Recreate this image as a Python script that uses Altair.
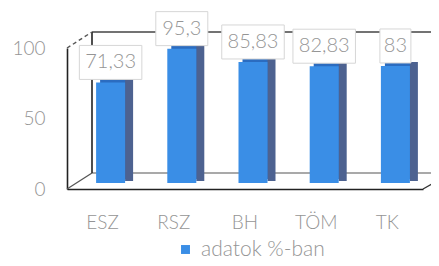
import altair as alt
import pandas as pd

categories = ["ESZ", "RSZ", "BH", "TÖM", "TK"]
values = [71.33, 95.3, 85.83, 82.83, 83]
labels = ["71,33", "95,3", "85,83", "82,83", "83"]
series = "adatok %-ban"

df = pd.DataFrame({"cat": categories, "val": values, "lab": labels, "series": series})

FONT = "Lato"
GRAY = "#959595"

x = alt.X("cat:N", sort=categories,
          scale=alt.Scale(paddingInner=0, paddingOuter=0),
          axis=alt.Axis(title=None, labelAngle=0, ticks=False, labelPadding=24,
                        labelFontSize=19, labelColor=GRAY, labelFont=FONT, labelFontWeight=300,
                        domainColor="#222222", domainWidth=1.6))
y = alt.Y("val:Q", scale=alt.Scale(domain=[0, 100], nice=False),
          axis=alt.Axis(title=None, values=[0, 50, 100], ticks=False, labelPadding=22,
                        labelFontSize=19, labelColor=GRAY, labelFont=FONT, labelFontWeight=300,
                        grid=False, domainColor="#222222", domainWidth=1.6))

base = alt.Chart(df)
frame = alt.Chart(pd.DataFrame({"z": [0]}))

lines = [
    # back wall top
    frame.mark_rule(color="#444444", strokeWidth=1.4, yOffset=-16, y2Offset=-16).encode(
        x=alt.value(25), x2=alt.value(372), y=alt.datum(100), y2=alt.datum(100)),
    # back floor
    frame.mark_rule(color="#555555", strokeWidth=1.2, yOffset=-16, y2Offset=-16).encode(
        x=alt.value(25), x2=alt.value(372), y=alt.datum(0), y2=alt.datum(0)),
    # back wall left vertical
    frame.mark_rule(color="#222222", strokeWidth=1.6, yOffset=-16, y2Offset=-16).encode(
        x=alt.value(25), y=alt.datum(0), y2=alt.datum(100)),
    # left top diagonal
    frame.mark_rule(color="#555555", strokeWidth=1.4, strokeDash=[4, 3], y2Offset=-16).encode(
        x=alt.value(0), x2=alt.value(25), y=alt.datum(100), y2=alt.datum(100)),
    # left bottom diagonal
    frame.mark_rule(color="#555555", strokeWidth=1.2, y2Offset=-16).encode(
        x=alt.value(0), x2=alt.value(25), y=alt.datum(0), y2=alt.datum(0)),
    # right bottom diagonal
    frame.mark_rule(color="#333333", strokeWidth=1.4, y2Offset=-9).encode(
        x=alt.value(356), x2=alt.value(372), y=alt.datum(0), y2=alt.datum(0)),
]

top_face = base.mark_bar(width=29, color="#2b6cc0", xOffset=12, yOffset=-10, y2Offset=-10).encode(
    x=x, y=y, y2=alt.datum(0))
side_face = base.mark_bar(width=8, color="#4d6290", xOffset=26.5, yOffset=-10, y2Offset=-8).encode(
    x=x, y=y, y2=alt.datum(0))
front_face = base.mark_bar(width=29, xOffset=8, yOffset=-6, y2Offset=-6).encode(
    x=x, y=y, y2=alt.datum(0),
    color=alt.Color("series:N", scale=alt.Scale(range=["#3a8ee6"]),
                    legend=alt.Legend(title=None, orient="none", legendX=108, legendY=191,
                                      symbolType="square", symbolSize=80, symbolStrokeWidth=0,
                                      labelFontSize=21, labelColor=GRAY, labelFont=FONT,
                                      labelFontWeight=300, labelOffset=5, padding=0)))

boxes = base.transform_calculate(bw="length(datum.lab) * 10.5 + 10").mark_bar(
    color="white", stroke="#d6d6d6", strokeWidth=1, xOffset=8, yOffset=-43, y2Offset=-9).encode(
    x=x, y=y, y2="val:Q", size=alt.Size("bw:Q", scale=None, legend=None))

texts = base.mark_text(font=FONT, fontSize=20, fontWeight=300, color=GRAY, dx=8, dy=-26,
                       baseline="middle").encode(
    x=x, y=y, text="lab:N")

chart = alt.layer(*lines, top_face, side_face, front_face, boxes, texts).properties(
    width=356, height=141,
    autosize=alt.AutoSizeParams(type="none"),
    padding={"left": 59, "top": 40, "right": 8, "bottom": 69},
    background="white",
).configure_view(stroke=None)

chart.save("out.html", embed_options={"renderer": "svg", "actions": False})
